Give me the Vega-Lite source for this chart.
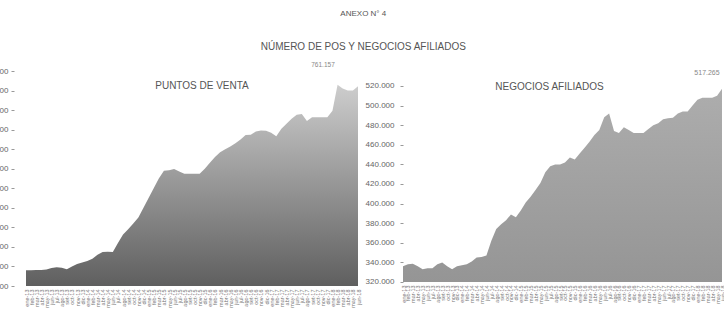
{
  "$schema": "https://vega.github.io/schema/vega-lite/v6.json",
  "autosize": {"type": "pad"},
  "padding": {"left": -21, "top": 10, "right": 2, "bottom": 0},
  "background": "white",
  "config": {
    "font": "Liberation Sans",
    "view": {"stroke": null},
    "locale": {"number": {"decimal": ",", "thousands": ".", "grouping": [3], "currency": ["S/", ""]}},
    "title": {"color": "#555555", "fontWeight": "normal"}
  },
  "bounds": "flush",
  "spacing": 45,
  "title": {
    "text": "ANEXO N° 4",
    "subtitle": "NÚMERO DE POS Y NEGOCIOS AFILIADOS",
    "anchor": "middle",
    "fontSize": 8,
    "subtitleFontSize": 10,
    "subtitleColor": "#555555",
    "subtitlePadding": 24,
    "offset": 10,
    "dx": 11
  },
  "data": {
    "values": [
      {"mes": "ene-13", "pos": 290000, "neg": 336000},
      {"mes": "feb-13", "pos": 290500, "neg": 338000},
      {"mes": "mar-13", "pos": 291000, "neg": 338500},
      {"mes": "abr-13", "pos": 291000, "neg": 336000},
      {"mes": "may-13", "pos": 292500, "neg": 333000},
      {"mes": "jun-13", "pos": 296000, "neg": 334000},
      {"mes": "jul-13", "pos": 298000, "neg": 334000},
      {"mes": "ago-13", "pos": 297000, "neg": 338000},
      {"mes": "set-13", "pos": 293000, "neg": 340000},
      {"mes": "oct-13", "pos": 300000, "neg": 336000},
      {"mes": "nov-13", "pos": 306000, "neg": 333000},
      {"mes": "dic-13", "pos": 310000, "neg": 336000},
      {"mes": "ene-14", "pos": 314000, "neg": 337000},
      {"mes": "feb-14", "pos": 320000, "neg": 338000},
      {"mes": "mar-14", "pos": 330000, "neg": 341000},
      {"mes": "abr-14", "pos": 337000, "neg": 345000},
      {"mes": "may-14", "pos": 337500, "neg": 345500},
      {"mes": "jun-14", "pos": 337000, "neg": 347000},
      {"mes": "jul-14", "pos": 360000, "neg": 362000},
      {"mes": "ago-14", "pos": 382000, "neg": 374000},
      {"mes": "set-14", "pos": 395000, "neg": 379000},
      {"mes": "oct-14", "pos": 410000, "neg": 383000},
      {"mes": "nov-14", "pos": 425000, "neg": 389000},
      {"mes": "dic-14", "pos": 450000, "neg": 386000},
      {"mes": "ene-15", "pos": 475000, "neg": 393000},
      {"mes": "feb-15", "pos": 500000, "neg": 401000},
      {"mes": "mar-15", "pos": 525000, "neg": 407000},
      {"mes": "abr-15", "pos": 545000, "neg": 414000},
      {"mes": "may-15", "pos": 546000, "neg": 421000},
      {"mes": "jun-15", "pos": 549000, "neg": 432000},
      {"mes": "jul-15", "pos": 543000, "neg": 438000},
      {"mes": "ago-15", "pos": 537000, "neg": 440000},
      {"mes": "set-15", "pos": 537000, "neg": 440000},
      {"mes": "oct-15", "pos": 537000, "neg": 442000},
      {"mes": "nov-15", "pos": 537000, "neg": 447000},
      {"mes": "dic-15", "pos": 550000, "neg": 445000},
      {"mes": "ene-16", "pos": 565000, "neg": 451000},
      {"mes": "feb-16", "pos": 580000, "neg": 457000},
      {"mes": "mar-16", "pos": 592000, "neg": 463000},
      {"mes": "abr-16", "pos": 600000, "neg": 470000},
      {"mes": "may-16", "pos": 607000, "neg": 475000},
      {"mes": "jun-16", "pos": 615000, "neg": 488000},
      {"mes": "jul-16", "pos": 625000, "neg": 492000},
      {"mes": "ago-16", "pos": 636000, "neg": 474000},
      {"mes": "set-16", "pos": 637000, "neg": 472000},
      {"mes": "oct-16", "pos": 645000, "neg": 478000},
      {"mes": "nov-16", "pos": 648000, "neg": 475000},
      {"mes": "dic-16", "pos": 647000, "neg": 472000},
      {"mes": "ene-17", "pos": 642000, "neg": 472000},
      {"mes": "feb-17", "pos": 633000, "neg": 472000},
      {"mes": "mar-17", "pos": 652000, "neg": 476000},
      {"mes": "abr-17", "pos": 665000, "neg": 480000},
      {"mes": "may-17", "pos": 678000, "neg": 482000},
      {"mes": "jun-17", "pos": 688000, "neg": 486000},
      {"mes": "jul-17", "pos": 690000, "neg": 487000},
      {"mes": "ago-17", "pos": 672000, "neg": 487600},
      {"mes": "set-17", "pos": 682000, "neg": 492000},
      {"mes": "oct-17", "pos": 682000, "neg": 494000},
      {"mes": "nov-17", "pos": 682000, "neg": 494000},
      {"mes": "dic-17", "pos": 682000, "neg": 500000},
      {"mes": "ene-18", "pos": 698000, "neg": 506000},
      {"mes": "feb-18", "pos": 765000, "neg": 508000},
      {"mes": "mar-18", "pos": 755000, "neg": 508000},
      {"mes": "abr-18", "pos": 750000, "neg": 508000},
      {"mes": "may-18", "pos": 750000, "neg": 510000},
      {"mes": "jun-18", "pos": 761157, "neg": 517265}
    ]
  },
  "hconcat": [
    {
      "width": 332,
      "height": 215,
      "title": {"text": "PUNTOS DE VENTA", "fontSize": 10, "offset": -29, "dx": 10, "color": "#555555"},
      "encoding": {
        "x": {
          "field": "mes", "type": "ordinal", "sort": null,
          "scale": {"padding": 0},
          "axis": {"title": null, "labelAngle": -90, "labelFontSize": 5.5, "labelColor": "#777777", "ticks": false, "domain": false, "labelOverlap": false, "labelPadding": 3}
        },
        "y": {
          "field": "pos", "type": "quantitative",
          "scale": {"domain": [250000, 800000], "nice": false, "zero": false},
          "axis": {"title": null, "values": [250000, 300000, 350000, 400000, 450000, 500000, 550000, 600000, 650000, 700000, 750000, 800000], "format": ",d", "grid": false, "domain": false, "offset": 12, "tickSize": 3, "tickColor": "#999999", "labelPadding": 3, "labelFontSize": 8, "labelColor": "#666666"}
        }
      },
      "layer": [
        {
          "mark": {"type": "area", "color": {"gradient": "linear", "x1": 0, "y1": 1, "x2": 0, "y2": 0, "stops": [{"offset": 0, "color": "#5f5f5f"}, {"offset": 1, "color": "#cdcdcd"}]}},
          "encoding": {"y2": {"datum": 250000}}
        },
        {
          "transform": [{"filter": "datum.mes === 'jun-18'"}],
          "mark": {"type": "text", "fontSize": 6.5, "color": "#888888", "dx": -35, "dy": -21},
          "encoding": {"text": {"field": "pos", "type": "quantitative", "format": ",d"}}
        }
      ]
    },
    {
      "width": 319,
      "height": 215,
      "title": {"text": "NEGOCIOS AFILIADOS", "fontSize": 10, "offset": -23, "dx": -13, "color": "#555555"},
      "encoding": {
        "x": {
          "field": "mes", "type": "ordinal", "sort": null,
          "scale": {"padding": 0},
          "axis": {"title": null, "labelAngle": -90, "labelFontSize": 5.5, "labelColor": "#777777", "ticks": false, "domain": false, "labelOverlap": false, "labelPadding": 3, "offset": -4}
        },
        "y": {
          "field": "neg", "type": "quantitative",
          "scale": {"domain": [315918, 535306], "nice": false, "zero": false},
          "axis": {"title": null, "values": [320000, 340000, 360000, 380000, 400000, 420000, 440000, 460000, 480000, 500000, 520000], "format": ",d", "grid": false, "domain": false, "tickSize": 3, "tickColor": "#999999", "labelPadding": 6, "labelFontSize": 8, "labelColor": "#666666"}
        }
      },
      "layer": [
        {
          "mark": {"type": "area", "color": {"gradient": "linear", "x1": 0, "y1": 1, "x2": 0, "y2": 0, "stops": [{"offset": 0, "color": "#959595"}, {"offset": 1, "color": "#adadad"}]}},
          "encoding": {"y2": {"datum": 320000}}
        },
        {
          "transform": [{"filter": "datum.mes === 'jun-18'"}],
          "mark": {"type": "text", "fontSize": 7, "color": "#888888", "dx": -15, "dy": -16},
          "encoding": {"text": {"field": "neg", "type": "quantitative", "format": ",d"}}
        }
      ]
    }
  ]
}
